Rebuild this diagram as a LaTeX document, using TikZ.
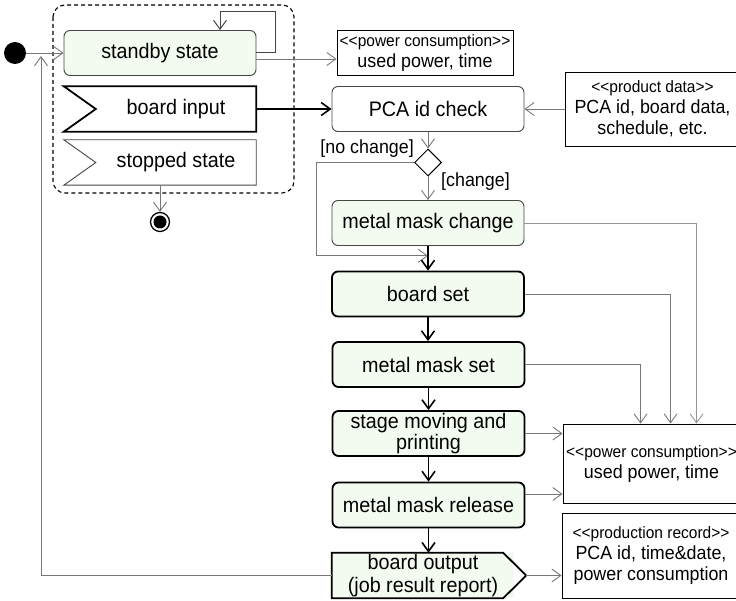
\documentclass[tikz,border=0pt]{standalone}
\usepackage{fontspec}
\setmainfont{Liberation Sans}[FakeStretch=0.94]
\usetikzlibrary{arrows.meta,shapes.geometric,calc}

\definecolor{actfill}{RGB}{243,251,241}
\definecolor{thinedge}{RGB}{70,70,70}
\definecolor{linkgray}{RGB}{120,120,120}
\definecolor{lightlink}{RGB}{150,150,150}

\begin{document}
\begin{tikzpicture}[x=1pt,y=-1pt,
  font=\fontsize{21}{21}\selectfont,
  barb/.style={-{Straight Barb[length=9pt,width=13pt]}},
  flow/.style={barb, line width=1.6pt, draw=black},
  link/.style={barb, line width=0.9pt, draw=linkgray},
  softlink/.style={barb, line width=0.9pt, draw=lightlink},
  looplink/.style={barb, line width=1pt, draw=thinedge},
  startdot/.style={circle, fill=black, minimum size=22pt, inner sep=0pt},
  enddot/.style={circle, draw=black, line width=1.3pt, fill=white, minimum size=19pt, inner sep=0pt},
  statebox/.style={rectangle, rounded corners=6pt, draw=thinedge, line width=0.9pt,
    minimum width=192pt, minimum height=45pt, inner sep=0pt, align=center},
  actbox/.style={statebox, fill=actfill, draw=black, line width=1.8pt},
  softact/.style={statebox, fill=actfill},
  flagtext/.style={rectangle, minimum width=160pt, minimum height=45pt, inner sep=0pt},
  databox/.style={rectangle, draw=black, line width=0.9pt, fill=white, inner sep=0pt,
    align=center, font=\fontsize{19}{21}\selectfont},
  guard/.style={inner sep=0pt, font=\fontsize{19}{21}\selectfont},
  decision/.style={diamond, draw=black, line width=1pt, fill=white, minimum size=27pt, inner sep=0pt},
  container/.style={draw=black, line width=1.1pt, dash pattern=on 4pt off 3pt, rounded corners=12pt}
]
\newcommand{\stereo}[1]{{\fontsize{16.5}{21}\selectfont {<}{<}#1{>}{>}}}
\clip (0,0) rectangle (736,601);

% ---- machine states ----
\draw[container] (53,5) rectangle (294,193);
\node[startdot] (init) at (15,53) {};
\node[softact] (standby) at (160,53) {standby state};

\node[flagtext] (binput) at (176,109) {board input};
\draw[line width=1.8pt, line join=miter]
  ($(binput.north west)+(-32,0)$) -- (binput.north east) -- (binput.south east)
  -- ($(binput.south west)+(-32,0)$) -- (binput.west) -- cycle;

\node[flagtext] (stopped) at (176,162.5) {stopped state};
\draw[line width=0.9pt, draw=thinedge, line join=miter]
  ($(stopped.north west)+(-32,0)$) -- (stopped.north east) -- (stopped.south east)
  -- ($(stopped.south west)+(-32,0)$) -- (stopped.west) -- cycle;

\node[enddot] (final) at (160,222) {};
\fill (final.center) circle[radius=6.5pt];

% ---- printing activities ----
\node[statebox] (pca) at (428,109) {PCA id check};
\node[decision] (dia) at (428,162.5) {};
\node[softact] (mmc) at (428,223) {metal mask change};
\node[actbox] (bset) at (428,294) {board set};
\node[actbox] (mmset) at (428.5,364.5) {metal mask set};
\node[actbox] (stage) at (428.5,433.5) {stage moving and\\printing};
\node[actbox] (mmrel) at (428.5,505) {metal mask release};

\node[flagtext, minimum width=182pt, align=center, fill=actfill] (bout) at (423,575.5)
  {board output\\[2pt](job result report)};
\coordinate (bouttip) at ($(bout.east)+(12,0)$);
\draw[line width=1.8pt, line join=miter]
  (bout.north west) -- ($(bout.north east)+(-11,0)$) -- (bouttip)
  -- ($(bout.south east)+(-11,0)$) -- (bout.south west) -- cycle;

% ---- data objects ----
\node[databox, minimum width=176pt, minimum height=45pt] (pc1) at (425,52.5)
  {\stereo{power consumption}\\used power, time};
\node[databox, minimum width=175pt, minimum height=74pt] (pd) at (652.5,109)
  {\stereo{product data}\\PCA id, board data,\\schedule, etc.};
\node[databox, minimum width=177pt, minimum height=79pt] (pc2) at (651.5,463.5)
  {\stereo{power consumption}\\used power, time};
\node[databox, minimum width=178pt, minimum height=85pt] (prod) at (651,555.5)
  {\stereo{production record}\\PCA id, time\&date,\\power consumption};

% ---- guards ----
\node[guard, anchor=east] (nochg) at (414,149) {[no change]};
\node[guard, anchor=west] (chg) at (441,182) {[change]};

% ---- control flow ----
\draw[link] (init) -- (standby);
\draw[looplink] (standby.east) -- ++(19,0) |- ($(standby.north)+(60,-19)$)
  -- ($(standby.north)+(60,0)$);
\coordinate (retpt) at (41,56);
\draw[link] (bout.west) -| (retpt);
\draw[link] (final |- stopped.south) -- (final);

\draw[flow] (binput.east) -- (pca.west);
\draw[link] (pca.south) -- (dia.north);
\draw[link] (dia.south) -- (mmc.north);
\coordinate (merge) at ($(mmc.south)!0.4!(bset.north)$);
\draw[link] (dia.west) -- ++(-98,0) |- (merge);

\draw[flow] (mmc.south) -- (bset.north);
\draw[flow] (bset.south) -- (bset.south |- mmset.north);
\draw[flow] (mmset.south) -- (stage.north);
\draw[flow] (stage.south) -- (mmrel.north);
\draw[flow] (mmrel.south) -- (mmrel.south |- bout.north);

% ---- object flows ----
\coordinate (sbo) at ($(standby.east)+(0,6)$);
\draw[link] (sbo) -- (sbo -| pc1.west);
\draw[link] (pd.west) -- (pca.east);

\draw[softlink] (mmc.east) -| ($(pc2.north west)+(134,0)$);
\draw[link] (bset.east) -| ($(pc2.north west)+(108,0)$);
\draw[link] (mmset.east) -| ($(pc2.north west)+(78,0)$);
\draw[link] (stage.east) -- (stage.east -| pc2.west);
\coordinate (mro) at ($(mmrel.east)+(0,-11)$);
\draw[link] (mro) -- (mro -| pc2.west);
\draw[link] (bouttip) -- (bouttip -| prod.west);
\end{tikzpicture}
\end{document}
